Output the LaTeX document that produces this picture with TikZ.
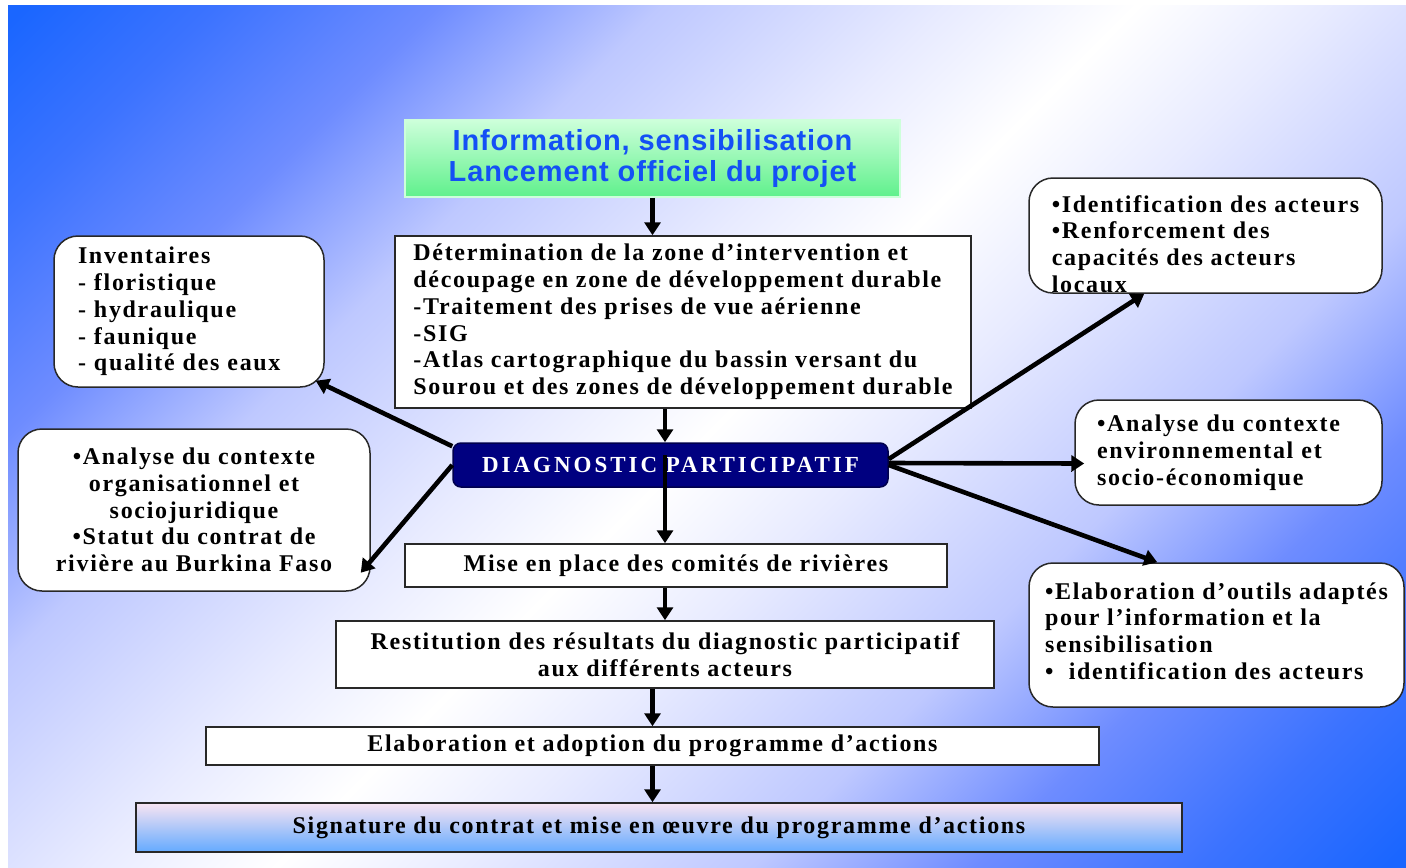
\documentclass[tikz,border=0pt]{standalone}
\usepackage{fontspec}
\setmainfont{Liberation Serif}[LetterSpace=7]
\setsansfont{Liberation Sans}[LetterSpace=3]
\newfontfamily\diagfont{Liberation Serif}[LetterSpace=13]
\usetikzlibrary{arrows.meta,calc}
\definecolor{bgblue}{RGB}{26,102,255}
\definecolor{bgdeep}{RGB}{60,115,255}
\definecolor{bgmid}{RGB}{110,140,255}
\definecolor{bglight}{RGB}{190,200,255}
\definecolor{bgpale}{RGB}{232,235,255}
\definecolor{infoblue}{RGB}{20,80,245}
\definecolor{infogreen}{RGB}{95,240,140}
\definecolor{infolight}{RGB}{205,255,218}
\definecolor{diagnavy}{RGB}{0,0,128}
\definecolor{signpink}{RGB}{248,228,242}
\definecolor{signblue}{RGB}{100,170,255}
\definecolor{boxline}{RGB}{40,40,40}
\pgfdeclareverticalshading{bgshade}{100bp}{color(0bp)=(bgblue); color(15bp)=(bgblue);
  color(21bp)=(bgdeep); color(28bp)=(bgmid); color(35bp)=(bglight); color(44bp)=(bgpale);
  color(50bp)=(white); color(56bp)=(bgpale); color(65bp)=(bglight); color(72bp)=(bgmid);
  color(79bp)=(bgdeep); color(85bp)=(bgblue); color(100bp)=(bgblue)}

\begin{document}
\begin{tikzpicture}[x=0.5pt, y=-0.5pt,
    box/.style={draw=boxline, line width=0.75pt, fill=white, inner sep=4pt,
                font=\bfseries\fontsize{12}{13.4}\selectfont},
    rbox/.style={box, rounded corners=12pt},
    arr/.style={-{Triangle[length=6.5pt,width=8pt]}, line width=2.3pt}
]

\useasboundingbox (0,0) rectangle (1406,867);
\fill[shading=bgshade, shading angle=45] (8,5) rectangle (1406,867);

\node[box, draw=infolight, top color=infolight, bottom color=infogreen,
      minimum width=247.5pt, minimum height=38.5pt, align=center, text=infoblue,
      font=\sffamily\bfseries\fontsize{14.5}{15.5}\selectfont] (info) at (652.5,158.5)
      {Information, sensibilisation\\Lancement officiel du projet};
\node[box, minimum width=288pt, minimum height=86pt, align=left] (det) at (683,322)
      {Détermination de la zone d’intervention et\\découpage en zone de développement durable\\-Traitement des prises de vue aérienne\\-SIG\\-Atlas cartographique du bassin versant du\\Sourou et des zones de développement durable};
\node[box, draw=diagnavy!60!black, fill=diagnavy, rounded corners=4pt,
      minimum width=217.5pt, minimum height=22pt, text=white,
      font=\diagfont\bfseries\fontsize{11.5}{13}\selectfont] (diag) at (670.5,465)
      {DIAGNOSTIC PARTICIPATIF};
\node[box, minimum width=271pt, minimum height=21.5pt] (mise) at (676,565.5)
      {Mise en place des comités de rivières};
\node[box, minimum width=329pt, minimum height=33.5pt, align=center] (resti) at (665,654.5)
      {Restitution des résultats du diagnostic participatif\\aux différents acteurs};
\node[box, minimum width=446.5pt, minimum height=19pt] (elab) at (652.5,746)
      {Elaboration et adoption du programme d’actions};
\node[box, top color=signpink, bottom color=signblue, minimum width=523pt,
      minimum height=24.5pt] (sign) at (659,827.5)
      {Signature du contrat et mise en œuvre du programme d’actions};

\node[rbox, minimum width=135pt, minimum height=75.5pt, text width=111pt, inner xsep=12pt,
      align=left] (inv) at (189,311.5)
      {Inventaires\\- floristique\\- hydraulique\\- faunique\\- qualité des eaux};
\node[rbox, minimum width=176pt, minimum height=81pt, align=center] (org) at (194,510)
      {•Analyse du contexte\\organisationnel et\\sociojuridique\\•Statut du contrat de\\rivière au Burkina Faso};
\node[rbox, minimum width=176.5pt, minimum height=57.5pt, inner ysep=0pt, align=left] (ident) at (1205.5,235.5)
      {\rule{0pt}{17pt}•Identification des acteurs\\•Renforcement des\\capacités des acteurs\\locaux};
\node[rbox, minimum width=153.5pt, minimum height=52.5pt, text width=131.5pt, inner xsep=11pt,
      align=left] (env) at (1228.5,452.5)
      {•Analyse du contexte\\environnemental et\\socio-économique};
\node[rbox, minimum width=187.5pt, minimum height=72pt, align=left] (outils) at (1216.5,635)
      {•Elaboration d’outils adaptés\\pour l’information et la\\sensibilisation\\•~~identification des acteurs\rule[-4pt]{0pt}{4pt}};

\coordinate (spine) at (665,0);
\draw[arr] (info.south) -- (info.south |- det.north);
\draw[arr] (det.south -| spine) -- (diag.north -| spine);
\draw[arr] ($(diag.center -| spine)+(0,-10)$) -- (mise.north -| spine);
\draw[arr] (mise.south -| resti.north) -- (resti.north);
\draw[arr] (resti.south -| elab.north) -- (elab.north);
\draw[arr] (elab.south) -- (elab.south |- sign.north);

\draw[arr] ([yshift=-2pt]diag.north west) -- ([shift={(-4.5pt,3.5pt)}]inv.south east);
\draw[arr] (diag.west) -- ([shift={(-5pt,9.5pt)}]org.south east);
\draw[arr] ([yshift=3pt]diag.east) -- ([xshift=58pt]ident.south west);
\draw[arr] ([yshift=1pt]diag.east) -- ([shift={(5pt,-5.5pt)}]env.west);
\draw[arr] (diag.east) -- ([xshift=64.5pt]outils.north west);

\end{tikzpicture}
\end{document}
